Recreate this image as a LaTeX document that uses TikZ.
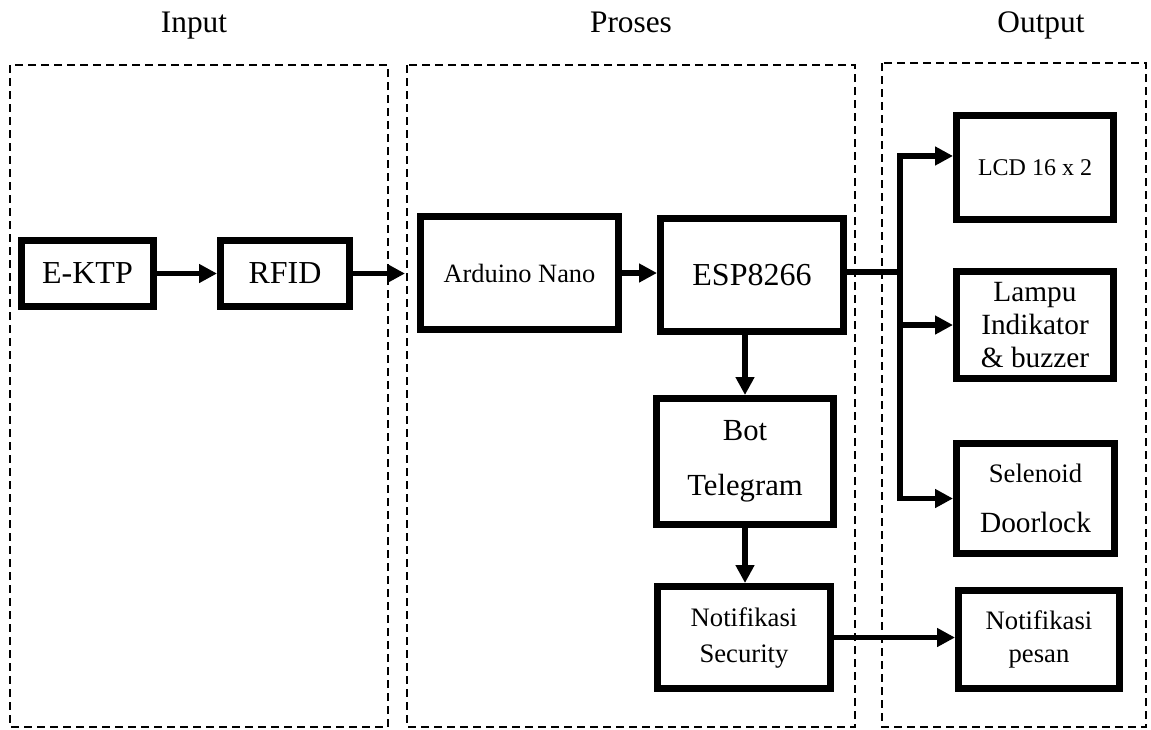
\documentclass[tikz,border=0pt]{standalone}
\usepackage{fontspec}
\setmainfont{Liberation Serif}
\usepackage{tikz}
\usetikzlibrary{arrows.meta}

\begin{document}
\begin{tikzpicture}[x=0.75pt,y=0.75pt,yscale=-1,xscale=1,
  blok/.style={draw, line width=5pt, align=center, inner sep=0pt},
  panah/.style={line width=4.2pt, -{Triangle[length=13.5pt,width=13.5pt]}},
  garis/.style={line width=4.2pt},
  zona/.style={line width=1.6pt, dash pattern=on 6pt off 3.75pt},
  judul/.style={anchor=base, font=\fontsize{23.5}{28}\selectfont}]
\useasboundingbox (0,0) rectangle (1151,729);

%Dashed zones
\draw [zona] (10,65) rectangle (388,727);
\draw [zona] (407,65) rectangle (855,727);
\draw [zona] (882,63) rectangle (1146,727);

% Text Node
\node [judul] (tinput) at (194,32) {Input};
\node [judul] (tproses) at (631,32) {Proses};
\node [judul] (toutput) at (1041,32) {Output};

%Input
\node [blok, minimum width=99.25pt, minimum height=49.75pt, font=\fontsize{24}{28}\selectfont] (ektp) at (87.5,273.5) {E-KTP};
\node [blok, minimum width=97pt, minimum height=49.75pt, font=\fontsize{24}{28}\selectfont] (rfid) at (285,273.5) {RFID};

%Proses
\node [blok, minimum width=148.75pt, minimum height=85pt, font=\fontsize{19.8}{24}\selectfont] (nano) at (519.5,273) {Arduino Nano};
\node [blok, minimum width=137.5pt, minimum height=85pt, font=\fontsize{24}{28}\selectfont] (esp) at (752,275) {ESP8266};
\node [blok, minimum width=133pt, minimum height=94.75pt, font=\fontsize{23}{41}\selectfont] (bot) at (745,461.5) {Bot\\Telegram};
\node [blok, minimum width=130pt, minimum height=76.75pt, font=\fontsize{20}{27}\selectfont] (secu) at (744,637.5) {Notifikasi\\Security};

%Output
\node [blok, minimum width=118pt, minimum height=78.25pt, font=\fontsize{18}{22}\selectfont] (lcd) at (1035,167.5) {LCD 16 x 2};
\node [blok, minimum width=118pt, minimum height=80.5pt, font=\fontsize{22}{25}\selectfont] (lampu) at (1035,325) {Lampu\\Indikator\\\& buzzer};
\node [blok, minimum width=118.75pt, minimum height=82.75pt, font=\fontsize{20}{37.5}\selectfont] (solen) at (1035.5,498.5) {Selenoid\\\fontsize{22}{37.5}\selectfont Doorlock};
\node [blok, minimum width=121pt, minimum height=73.75pt, font=\fontsize{20}{25}\selectfont] (pesan) at (1039,639.5) {Notifikasi\\pesan};

%Connectors
\coordinate (masuk) at (405,273.5);
\coordinate (cabang) at (900,272);
\draw [panah] (ektp) -- (rfid);
\draw [panah] (rfid) -- (masuk);
\draw [panah] (nano.east) -- (nano.east -| esp.west);
\draw [panah] (esp.south -| bot.north) -- (bot.north);
\draw [panah] (bot.south) -- (bot.south |- secu.north);
\draw [panah] (secu.east) -- (secu.east -| pesan.west);
\draw [garis] (esp.east |- cabang) -- (cabang);
\draw [panah] ([yshift=2.1pt]cabang) |- (lcd.172);
\draw [panah] (cabang) |- (lampu.west);
\draw [panah] ([yshift=-2.1pt]cabang) |- (solen.west);

\end{tikzpicture}
\end{document}
